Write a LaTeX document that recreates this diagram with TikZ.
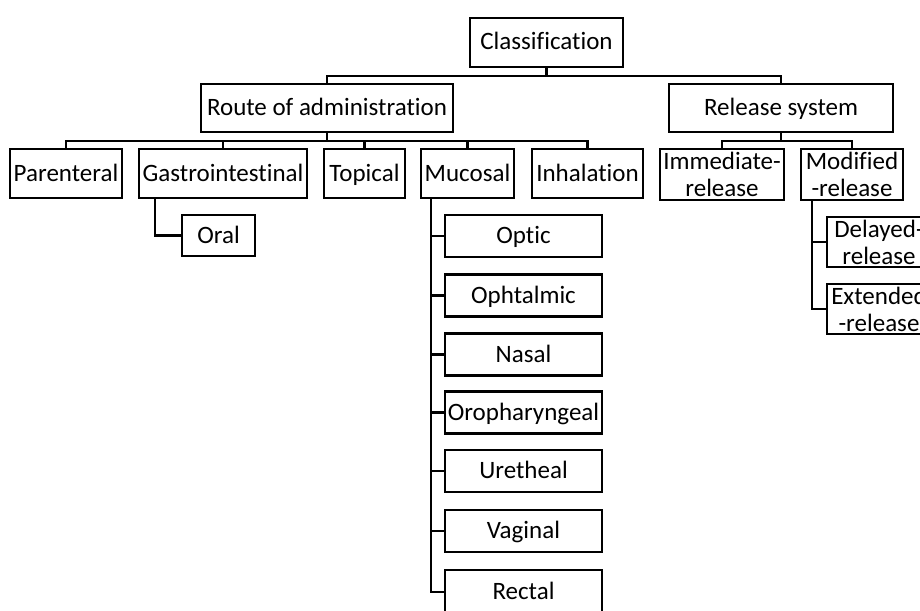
\documentclass[tikz,border=0pt]{standalone}
\usepackage{fontspec}
\setmainfont{Carlito}[Ligatures=NoCommon]

\begin{document}
\begin{tikzpicture}[x=1pt,y=1pt]
  \tikzset{box/.style={draw=black, line width=2.2pt, inner sep=0pt, align=center,
      font=\fontsize{25}{27}\selectfont},
    oneline/.style={box, text height=18pt, text depth=3pt},
    wire/.style={black, line width=2.2pt}}
  \useasboundingbox (0,0) rectangle (920,-610);
  \clip (0,0) rectangle (920,-610);
  % top
  \node [oneline, minimum width=153, minimum height=49] (class) at (546.5,-42.5) {Classification};
  \node [oneline, minimum width=252, minimum height=48] (route) at (327,-108) {Route of administration};
  \node [oneline, minimum width=224, minimum height=48] (release) at (781,-108) {Release system};
  % routes
  \node [oneline, minimum width=112, minimum height=49] (parenteral) at (66,-173.5) {Parenteral};
  \node [oneline, minimum width=168, minimum height=49] (gastro) at (223,-173.5) {Gastrointestinal};
  \node [oneline, minimum width=81, minimum height=49] (topical) at (364.5,-173.5) {Topical};
  \node [oneline, minimum width=93, minimum height=49] (mucosal) at (467.5,-173.5) {Mucosal};
  \node [oneline, minimum width=111, minimum height=49] (inhalation) at (587.5,-173.5) {Inhalation};
  \node [oneline, minimum width=73, minimum height=41] (oral) at (218.5,-235.5) {Oral};
  % mucosal routes
  \node [oneline, minimum width=157, minimum height=42] (optic) at (523.5,-236) {Optic};
  \node [oneline, minimum width=157, minimum height=42] (ophtalmic) at (523.5,-295.5) {Ophtalmic};
  \node [oneline, minimum width=157, minimum height=42] (nasal) at (523.5,-354.5) {Nasal};
  \node [oneline, minimum width=157, minimum height=42] (oropharyngeal) at (523.5,-412.5) {Oropharyngeal};
  \node [oneline, minimum width=157, minimum height=42] (uretheal) at (523.5,-471) {Uretheal};
  \node [oneline, minimum width=157, minimum height=42] (vaginal) at (523.5,-531) {Vaginal};
  \node [oneline, minimum width=157, minimum height=44] (rectal) at (523.5,-592) {Rectal};
  % release systems
  \node [box, minimum width=124, minimum height=51] (immediate) at (722,-174.5) {Immediate-\\release};
  \node [box, minimum width=102, minimum height=51] (modified) at (852,-174.5) {Modified\\-release};
  \node [box, minimum width=104, minimum height=50] (delayed) at (879,-242) {Delayed-\\release};
  \node [box, minimum width=104, minimum height=50] (extended) at (879,-309) {Extended\\-release};

  \draw [wire] (class.south) -- ++(0,-8) -| (route.north);
  \draw [wire] (class.south) -- ++(0,-8) -| (release.north);
  \draw [wire] (route.south) -- ++(0,-8) -| (parenteral.north);
  \draw [wire] (route.south) -- ++(0,-8) -| (gastro.north);
  \draw [wire] (route.south) -- ++(0,-8) -| (topical.north);
  \draw [wire] (route.south) -- ++(0,-8) -| (mucosal.north);
  \draw [wire] (route.south) -- ++(0,-8) -| (inhalation.north);
  \draw [wire] (release.south) -- ++(0,-8) -| (immediate.north);
  \draw [wire] (release.south) -- ++(0,-8) -| (modified.north);
  \draw [wire] (gastro.south west) ++(17,0) |- (oral.west);
  \draw [wire] (mucosal.south west) ++(11,0) |- (optic.west);
  \draw [wire] (mucosal.south west) ++(11,0) |- (ophtalmic.west);
  \draw [wire] (mucosal.south west) ++(11,0) |- (nasal.west);
  \draw [wire] (mucosal.south west) ++(11,0) |- (oropharyngeal.west);
  \draw [wire] (mucosal.south west) ++(11,0) |- (uretheal.west);
  \draw [wire] (mucosal.south west) ++(11,0) |- (vaginal.west);
  \draw [wire] (mucosal.south west) ++(11,0) |- (rectal.west);
  \draw [wire] (modified.south west) ++(12,0) |- (delayed.west);
  \draw [wire] (modified.south west) ++(12,0) |- (extended.west);
\end{tikzpicture}
\end{document}
